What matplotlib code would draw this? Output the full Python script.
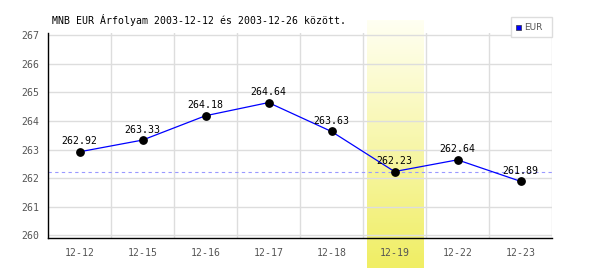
import numpy as np
import matplotlib.pyplot as plt
from matplotlib.patches import Rectangle
from matplotlib.lines import Line2D

# Data
dates = ['12-12', '12-15', '12-16', '12-17', '12-18', '12-19', '12-22', '12-23']
rates = [262.92, 263.33, 264.18, 264.64, 263.63, 262.23, 262.64, 261.89]
yticks = [260, 261, 262, 263, 264, 265, 266, 267]
highlight = 5          # index of highlighted day
ref_level = 262.23     # dashed reference line
title = 'MNB EUR Árfolyam 2003-12-12 és 2003-12-26 között.'

plt.rcParams['font.family'] = ['DejaVu Sans Mono']

fig = plt.figure(figsize=(6, 2.7), dpi=100)
ax = fig.add_axes([48 / 600, 1 - 238 / 270, 504 / 600, 205 / 270])

x = np.arange(len(dates)) + 0.5
ax.set_xlim(0, len(dates))
ax.set_ylim(259.91, 267.07)

# yellow gradient band behind the highlighted day
grad = np.linspace(0, 1, 100).reshape(-1, 1)
top = np.array([255, 255, 242]) / 255
bot = np.array([240, 238, 100]) / 255
img = top + (bot - top) * grad[:, :, None] * np.ones((1, 1, 3))
ax.imshow(img, extent=[highlight + 0.07, highlight + 0.96, 258.87, 267.52],
          aspect='auto', origin='upper', clip_on=False, zorder=0)

# grid
for v in range(1, len(dates) + 1):
    ax.axvline(v, color='#dddddd', lw=1, zorder=1)
for v in yticks:
    ax.axhline(v, color='#dddddd', lw=1, zorder=1)

ax.axhline(ref_level, color='#9999ff', lw=0.8, ls=(0, (3, 3)), zorder=2)

ax.plot(x, rates, color='#0000ff', lw=0.9, zorder=3)
ax.scatter(x, rates, s=28, color='black', zorder=4)
for xi, r in zip(x, rates):
    ax.annotate(f'{r:.2f}', (xi, r), xytext=(0, 4), textcoords='offset points',
                ha='center', va='bottom', fontsize=7.1, color='black', zorder=5)

ax.set_xticks(x)
ax.set_xticklabels(dates)
ax.set_yticks(yticks)
ax.tick_params(length=0, labelsize=7.1, labelcolor='#555555', pad=6)
ax.tick_params(axis='x', pad=7)
ax.set_facecolor('none')
for s in ['top', 'right']:
    ax.spines[s].set_visible(False)
ax.spines['left'].set_color('black')
ax.spines['bottom'].set_color('black')
ax.spines['left'].set_linewidth(1)
ax.spines['bottom'].set_linewidth(1)

fig.text(52 / 600, 1 - 20 / 270, title, fontsize=7.1, color='black',
         ha='left', va='center')

# legend box
fig.patches.append(Rectangle((511 / 600, 1 - 37 / 270), 41 / 600, 20 / 270,
                             transform=fig.transFigure, facecolor='white',
                             edgecolor='#dddddd', lw=1))
fig.patches.append(Rectangle((516 / 600, 1 - 30 / 270), 5 / 600, 5 / 270,
                             transform=fig.transFigure, facecolor='#0000ff',
                             edgecolor='#333333', lw=0.5))
fig.text(524 / 600, 1 - 27.5 / 270, 'EUR', fontsize=6.5, color='#555555',
         ha='left', va='center', family='DejaVu Sans')

fig.savefig('out.png', dpi=100)
